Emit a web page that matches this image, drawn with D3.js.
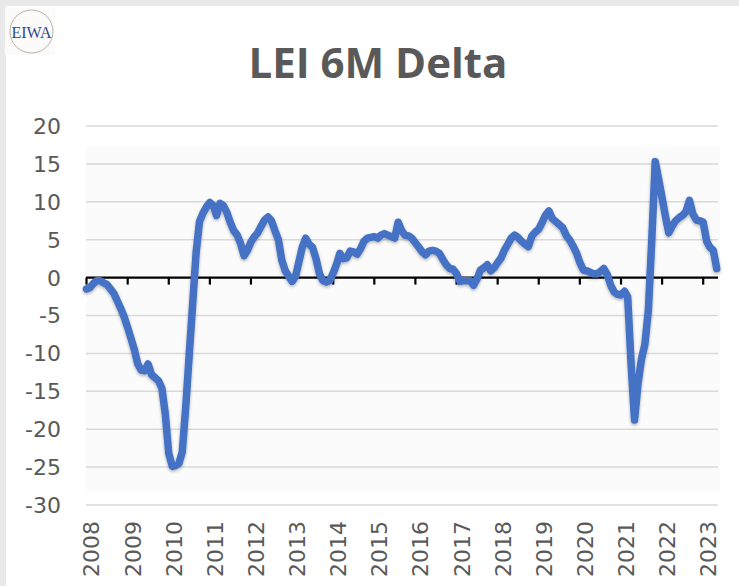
<!DOCTYPE html>
<html><head><meta charset="utf-8">
<script src="https://cdn.jsdelivr.net/npm/d3@7"></script>
<style>html,body{margin:0;padding:0;background:#fff;} svg{display:block}</style>
</head><body>
<svg id="chart" width="739" height="586"></svg>
<script>
// ---- data ----
const chartTitle = "LEI 6M Delta";
const startMonth = "2008-01";
const lei6mDelta = [
  -1.5,-1.3,-0.8,-0.4,-0.4,-0.7,-0.9,-1.5,-2.1,-3.1,-4.1,-5.2,
  -6.6,-8.1,-9.5,-11.4,-12.2,-12.3,-11.4,-12.8,-13.2,-13.6,-14.6,-18.0,
  -23.2,-24.9,-24.8,-24.5,-23.0,-17.0,-10.3,-3.5,3.3,7.4,8.5,9.3,
  9.9,9.5,8.2,9.8,9.5,8.6,7.3,6.2,5.6,4.5,2.9,3.6,
  4.7,5.4,5.9,6.8,7.6,8.0,7.5,6.2,5.0,2.3,0.9,0.2,
  -0.5,0.2,2.0,4.0,5.2,4.4,4.0,2.5,0.5,-0.4,-0.6,-0.4,
  0.6,1.8,3.2,2.5,2.6,3.5,3.4,3.1,3.8,4.8,5.2,5.3,
  5.4,5.2,5.6,5.8,5.6,5.4,5.2,7.3,6.2,5.6,5.5,5.2,
  4.6,4.0,3.4,3.0,3.5,3.6,3.5,3.2,2.4,1.7,1.2,1.1,
  0.5,-0.5,-0.4,-0.4,-0.4,-1.0,-0.2,1.0,1.3,1.7,0.9,1.3,
  2.0,2.6,3.6,4.4,5.2,5.6,5.3,4.8,4.4,4.1,5.5,6.0,
  6.4,7.3,8.2,8.8,7.8,7.4,7.0,6.6,5.6,5.0,4.2,3.3,
  2.0,1.0,0.9,0.7,0.5,0.5,0.8,1.2,0.4,-1.0,-1.9,-2.2,
  -2.3,-1.8,-2.5,-11.5,-18.8,-14.0,-10.8,-8.8,-4.3,4.9,15.3,13.0,
  10.5,8.0,5.9,6.8,7.5,7.9,8.2,8.7,10.2,8.4,7.6,7.5,
  7.3,4.8,4.0,3.6,1.2
];
const yTickValues = [20,15,10,5,0,-5,-10,-15,-20,-25,-30];
const yearLabels = ["2008","2009","2010","2011","2012","2013","2014","2015","2016","2017","2018","2019","2020","2021","2022","2023"];

// ---- layout ----
const W = 739, H = 586;
const svg = d3.select("#chart");
const parseMonth = d3.timeParse("%Y-%m");
const start = parseMonth(startMonth);
const series = lei6mDelta.map((v, i) => ({date: d3.timeMonth.offset(start, i), v}));

const x = d3.scaleTime()
  .domain([start, series[series.length - 1].date])
  .range([86.5, 716.7]);
const y = d3.scaleLinear().domain([-30, 20]).range([505, 126]);

const defs = svg.append("defs");
const f = defs.append("filter").attr("id","shadow").attr("x","-10%").attr("y","-10%").attr("width","120%").attr("height","120%");
f.append("feDropShadow").attr("dx",0).attr("dy",1.5).attr("stdDeviation",1.6)
  .attr("flood-color","#000").attr("flood-opacity",0.3);

// frame
svg.append("rect").attr("width", W).attr("height", H).attr("fill", "#e9e9e9");
svg.append("rect").attr("x", 6).attr("y", 6).attr("width", W - 6).attr("height", H - 6).attr("fill", "#ffffff");

// logo
const logo = svg.append("g");
logo.append("rect").attr("x", 5).attr("y", 8).attr("width", 50).attr("height", 47).attr("fill", "#fcfbf9");
logo.append("circle").attr("cx", 31.5).attr("cy", 31.5).attr("r", 21.5)
  .attr("fill", "none").attr("stroke", "#a8a8a8").attr("stroke-width", 0.9);
logo.append("text").attr("x", 31.5).attr("y", 38).attr("text-anchor", "middle")
  .attr("font-family", "'Liberation Serif','DejaVu Serif',serif").attr("font-size", 16)
  .attr("textLength", 40).attr("lengthAdjust", "spacingAndGlyphs")
  .attr("fill", "#2b4a8e").text("EIWA");

// plot background
svg.append("rect").attr("x", 86).attr("y", 146).attr("width", 634).attr("height", 346).attr("fill", "#fbfbfb");

// title
svg.append("text").attr("x", 378).attr("y", 78).attr("text-anchor", "middle")
  .attr("font-family", "'Open Sans', sans-serif").attr("font-weight", "bold").attr("font-size", 42)
  .attr("fill", "#595959").text(chartTitle);

// gridlines
svg.append("g").selectAll("line").data(yTickValues.filter(d => d !== 0)).join("line")
  .attr("x1", 86).attr("x2", 718)
  .attr("y1", d => y(d)).attr("y2", d => y(d))
  .attr("stroke", "#d9d9d9").attr("stroke-width", 1.5);

// y labels
svg.append("g").selectAll("text").data(yTickValues).join("text")
  .attr("x", 61).attr("y", d => y(d)).attr("dy", "0.36em")
  .attr("text-anchor", "end")
  .attr("font-family", "'DejaVu Sans', sans-serif").attr("font-size", 22)
  .attr("fill", "#595959").text(d => d);

// zero axis with year ticks
const yearDates = yearLabels.map(s => d3.timeParse("%Y")(s));
svg.append("line").attr("x1", 86).attr("x2", 718).attr("y1", y(0)).attr("y2", y(0))
  .attr("stroke", "#000").attr("stroke-width", 2.4);
svg.append("g").selectAll("line").data(yearDates).join("line")
  .attr("x1", d => x(d)).attr("x2", d => x(d))
  .attr("y1", y(0)).attr("y2", y(0) + 7)
  .attr("stroke", "#000").attr("stroke-width", 2.2);

// x labels
svg.append("g").selectAll("text").data(yearLabels).join("text")
  .attr("transform", (d, i) => `translate(${x(yearDates[i]) + 5},521) rotate(-90)`)
  .attr("dy", "0.36em").attr("text-anchor", "end")
  .attr("font-family", "'DejaVu Sans', sans-serif").attr("font-size", 22)
  .attr("fill", "#595959").text(d => d);

// line
const line = d3.line().x(d => x(d.date)).y(d => y(d.v));
svg.append("path").datum(series).attr("d", line)
  .attr("fill", "none").attr("stroke", "#4472c4").attr("stroke-width", 7.5)
  .attr("stroke-linejoin", "round").attr("stroke-linecap", "round")
  .attr("filter", "url(#shadow)");
</script>
</body></html>
